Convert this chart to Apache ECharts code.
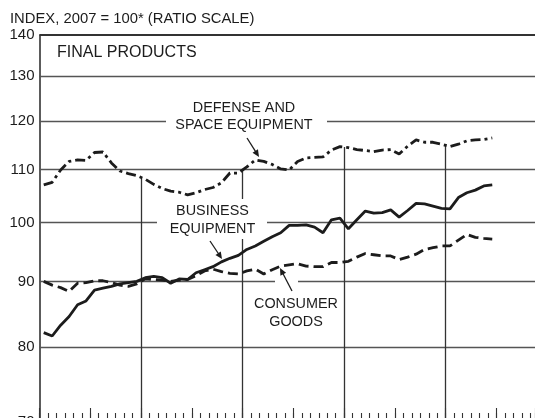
<!DOCTYPE html>
<html><head><meta charset="utf-8">
<script src="https://cdn.jsdelivr.net/npm/echarts@6/dist/echarts.min.js"></script>
<style>html,body{margin:0;padding:0;overflow:hidden;background:#fff}#c{width:535px;height:440px}</style>
</head><body><div id="c"></div>
<script>
// Monthly index values, Jan of first year through Jun of fifth year (2007 = 100)
const business = [82.1, 81.6, 83.2, 84.5, 86.3, 86.9, 88.6, 88.9, 89.2, 89.6, 89.8, 90.0,
  90.6, 90.8, 90.6, 89.7, 90.4, 90.3, 91.4, 91.9, 92.4, 93.2, 93.8, 94.3,
  95.3, 95.9, 96.7, 97.5, 98.2, 99.5, 99.5, 99.6, 99.2, 98.2, 100.5, 100.8,
  98.9, 100.5, 102.1, 101.7, 101.8, 102.3, 101.0, 102.2, 103.5, 103.4, 103.0, 102.6,
  102.5, 104.6, 105.5, 106.0, 106.8, 107.0];
const consumer = [90.0, 89.4, 89.0, 88.4, 89.7, 89.8, 90.1, 90.1, 89.8, 89.4, 89.2, 89.6,
  90.4, 90.3, 90.2, 90.0, 90.2, 90.3, 90.9, 91.7, 92.0, 91.6, 91.3, 91.2,
  91.7, 92.0, 91.2, 91.9, 92.5, 92.7, 92.9, 92.5, 92.4, 92.4, 93.1, 93.1,
  93.3, 94.0, 94.6, 94.4, 94.2, 94.2, 93.6, 94.0, 94.5, 95.3, 95.6, 95.9,
  95.9, 96.9, 97.9, 97.4, 97.2, 97.1];
const defense = [107.0, 107.5, 109.9, 111.6, 111.9, 111.8, 113.4, 113.5, 111.3, 109.7, 109.2, 108.8,
  108.1, 107.1, 106.3, 105.8, 105.6, 105.1, 105.5, 106.1, 106.5, 107.4, 109.3, 109.3,
  110.5, 111.9, 111.6, 111.0, 110.1, 109.9, 111.6, 112.3, 112.4, 112.5, 113.9, 114.6,
  114.4, 114.0, 113.8, 113.6, 113.9, 114.0, 113.1, 114.7, 116.0, 115.5, 115.5, 115.1,
  114.6, 115.1, 115.8, 116.0, 116.1, 116.4];
const yTicks = [70, 80, 90, 100, 110, 120, 130, 140];
const yearBoundaries = [12, 24, 36, 48]; // months from start of axis
const titleText = 'INDEX, 2007 = 100* (RATIO SCALE)';
const panelText = 'FINAL PRODUCTS';
const labelDefense = 'DEFENSE AND\nSPACE EQUIPMENT';
const labelBusiness = 'BUSINESS\nEQUIPMENT';
const labelConsumer = 'CONSUMER\nGOODS';

const FONT = '"Liberation Sans", Arial, sans-serif';
const INK = '#1c1c1c';

function pts(arr) { return arr.map((v, i) => [i + 0.5, v]); }
function interp(arr, m) {
  const x = m - 0.5, i = Math.floor(x), f = x - i;
  return arr[i] * (1 - f) + arr[i + 1] * f;
}
function arrow(x1, y1, x2, y2) {
  const dx = x2 - x1, dy = y2 - y1, L = Math.hypot(dx, dy), ux = dx / L, uy = dy / L;
  const hl = 7, hw = 3.2, bx = x2 - ux * hl, by = y2 - uy * hl;
  return [
    { type: 'line', z: 20, shape: { x1: x1, y1: y1, x2: bx + ux, y2: by + uy }, style: { stroke: INK, lineWidth: 1.3 } },
    { type: 'polygon', z: 20, shape: { points: [[x2, y2], [bx - uy * hw, by + ux * hw], [bx + uy * hw, by - ux * hw]] }, style: { fill: INK } }
  ];
}
function txt(x, y, s, size, align) {
  return { type: 'text', z: 20, x: x, y: y, style: { text: s, fontSize: size, fontFamily: FONT, fill: INK,
    align: align || 'center', verticalAlign: 'middle', textAlign: align || 'center', textVerticalAlign: 'middle', lineHeight: 17.5 } };
}
function box(x, y, w, h) {
  return { type: 'rect', z: 8, shape: { x: x, y: y, width: w, height: h }, style: { fill: '#fff' } };
}

const gridLines = yTicks.map(v => ({
  yAxis: v,
  lineStyle: { color: v === 140 ? '#333' : '#555', width: v === 140 ? 2 : 1.3, type: 'solid' },
  label: { show: true, position: 'start', formatter: String(v), distance: 5, fontSize: 15, color: INK, fontFamily: FONT }
}));
const yearLines = yearBoundaries.map(m => [
  { coord: [m, interp(defense, m)] },
  { coord: [m, yTicks[0]] }
]);

const XMAX = 58.55;
const chart = echarts.init(document.getElementById('c'), null, { renderer: 'canvas' });
chart.setOption({
  animation: false,
  backgroundColor: '#fff',
  grid: { left: 39.5, right: 0, top: 35, bottom: 18.5 },
  xAxis: [
    { type: 'value', min: 0, max: XMAX, interval: 1, position: 'bottom',
      axisLine: { show: false }, axisLabel: { show: false }, splitLine: { show: false },
      axisTick: { show: true, inside: true, length: 8.5, lineStyle: { color: '#333', width: 1.1 } } },
    { type: 'value', min: 0, max: XMAX, interval: 6, position: 'bottom',
      axisLine: { show: false }, axisLabel: { show: false }, splitLine: { show: false },
      axisTick: { show: true, inside: true, length: 13.5, lineStyle: { color: '#333', width: 1.1 } } }
  ],
  yAxis: {
    type: 'log', logBase: 10, min: 70, max: 140,
    axisLine: { show: true, lineStyle: { color: '#333', width: 1.6 } },
    axisTick: { show: false }, axisLabel: { show: false }, splitLine: { show: false }
  },
  series: [
    { name: 'Business equipment', type: 'line', data: pts(business), symbol: 'none', z: 10,
      lineStyle: { color: INK, width: 2.8, type: 'solid' },
      markLine: { silent: true, z: 5, symbol: ['none', 'none'], animation: false, data: gridLines } },
    { name: 'Consumer goods', type: 'line', data: pts(consumer), symbol: 'none', z: 10,
      lineStyle: { color: INK, width: 2.8, type: [10, 5] } },
    { name: 'Defense and space equipment', type: 'line', data: pts(defense), symbol: 'none', z: 10,
      lineStyle: { color: INK, width: 2.8, type: [10, 4, 3, 4] },
      markLine: { silent: true, z: 5, symbol: ['none', 'none'], animation: false,
        label: { show: false },
        lineStyle: { color: '#333', width: 1.3, type: 'solid' }, data: yearLines } }
  ],
  graphic: [
    txt(10, 19, titleText, 14.8, 'left'),
    txt(57, 52.5, panelText, 16, 'left'),
    box(166, 98, 161, 36),
    txt(244, 116.5, labelDefense, 14.4),
    box(157, 199, 110, 40),
    txt(212.5, 220, labelBusiness, 14.4),
    box(275, 278, 23, 9),
    txt(296, 313, labelConsumer, 14.4)
  ].concat(arrow(247, 138, 259, 157), arrow(210, 241, 222, 259), arrow(292, 291, 280, 268))
});
</script></body></html>
